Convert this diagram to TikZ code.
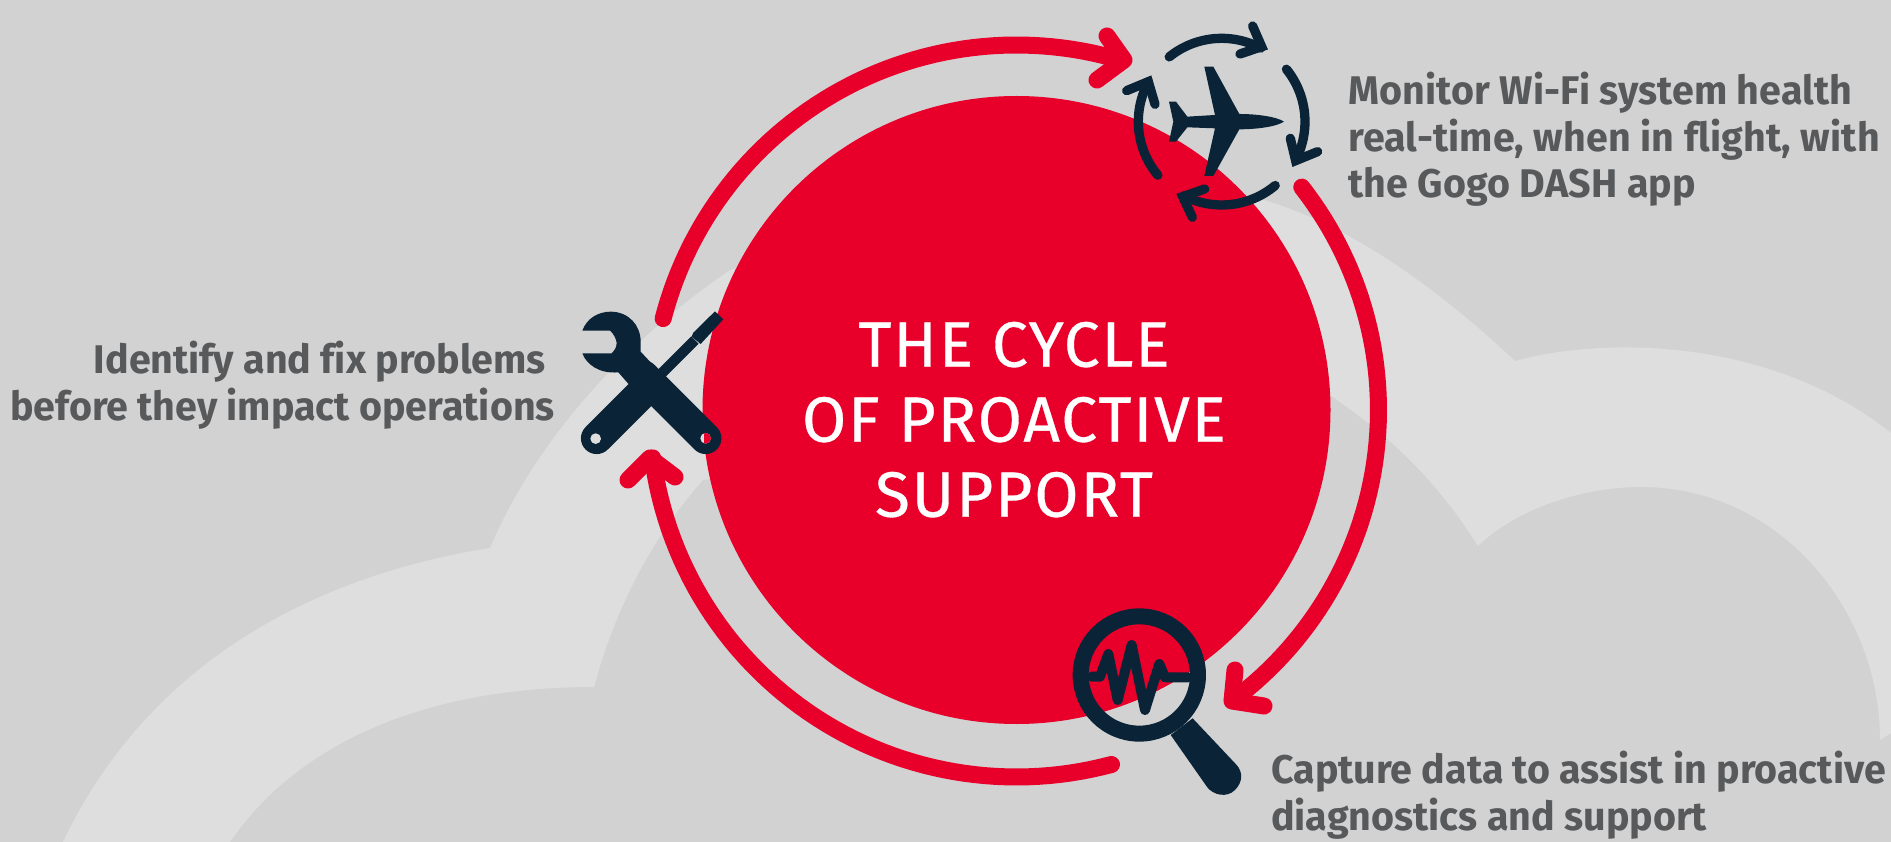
\documentclass[tikz,border=0pt]{standalone}
\usepackage{fontspec}
\setmainfont{Fira Sans}[Ligatures=NoCommon]
\newfontfamily\labelfont{Fira Sans}[Ligatures=NoCommon,BoldFont={Fira Sans Bold},FakeStretch=0.985]
\newfontfamily\titlefont{Fira Sans}[FakeBold=0.5,LetterSpace=3.0]
\definecolor{bgc}{HTML}{D2D2D2}
\definecolor{cloudc}{HTML}{DEDEDE}
\definecolor{redc}{HTML}{E8002B}
\definecolor{navyc}{HTML}{0A2337}
\definecolor{textc}{HTML}{58595B}
\newcommand{\arcplot}[5]{plot[domain=#4:#5,samples=60,variable=\t] ({#1+#3*cos(\t)},{#2+#3*sin(\t)})}
\tikzset{
  ringarc/.style={draw=redc,line width=17pt,line cap=round,line join=round},
  iconarc/.style={draw=navyc,line width=9.3pt,line cap=round,line join=miter},
  labeltext/.style={text=textc,font=\labelfont\fontsize{40}{46.5}\selectfont\bfseries,inner sep=0pt},
  titletext/.style={text=white,font=\titlefont\fontsize{64}{75}\selectfont,inner sep=0pt,anchor=base}
}
\begin{document}
\begin{tikzpicture}[x=1pt,y=-1pt]
\useasboundingbox (0,0) rectangle (1891,842);
\fill[bgc] (0,0) rectangle (1891,842);
% cloud
\fill[cloudc]
  (63,842) .. controls (140,680) and (290,580) .. (490,548)
  .. controls (540,430) and (640,330) .. (732,269)
  -- (1253,197)
  .. controls (1350,222) and (1445,295) .. (1515,361)
  .. controls (1610,335) and (1775,340) .. (1891,433)
  -- (1891,733) -- (1880,740)
  .. controls (1880,610) and (1780,487) .. (1641,487)
  .. controls (1580,487) and (1515,510) .. (1478,546)
  .. controls (1430,470) and (1380,430) .. (1330,395)
  -- (703,480)
  .. controls (650,540) and (615,610) .. (594,687)
  .. controls (430,687) and (300,740) .. (230,842)
  -- cycle;
% main disc
\fill[redc] (1016.5,410) circle[radius=314];
% ring arrows
\draw[ringarc] \arcplot{1016.5}{410}{365}{194.5}{286.7};
\draw[ringarc] (1107,36) -- (1124,60) -- (1097,80);
\draw[ringarc] \arcplot{1016.5}{410}{362}{-38}{53.4};
\draw[ringarc] (1235,670) -- (1232,701) -- (1264,706);
\draw[ringarc] \arcplot{1016.5}{410}{367}{75}{172.5};
\draw[ringarc] (628,480) -- (650,458) -- (675,477);
% plane icon
\begin{scope}[shift={(1100,0)},x=0.3333pt,y=-0.3333pt]
  \fill[navyc] (552,365) .. controls (530,350) and (470,342) .. (418,342) -- (340,200) -- (313,200) -- (345,345)
    -- (262,350) -- (228,305) -- (207,305) -- (220,365) -- (207,425) -- (228,425) -- (262,382)
    -- (345,385) -- (313,528) -- (340,528) -- (418,388) .. controls (470,388) and (530,380) .. (552,365) -- cycle;
  \draw[iconarc] \arcplot{365}{365}{250}{231}{298};
  \draw[iconarc] (458,78) -- (485,140) -- (420,162);
  \draw[iconarc] \arcplot{365}{365}{250}{-39}{27.6};
  \draw[iconarc] (571,415) -- (587,482) -- (653,455);
  \draw[iconarc] \arcplot{365}{365}{250}{50}{117};
  \draw[iconarc] (314,567) -- (248,590) -- (277,652);
  \draw[iconarc] \arcplot{365}{365}{250}{140}{208.6};
  \draw[iconarc] (80,272) -- (145,245) -- (165,313);
\end{scope}
% tools icon
\begin{scope}[shift={(550,290)},x=0.3333pt,y=-0.3333pt]
  \fill[navyc] (430,128) -- (495,64) -- (520,88) -- (452,162) -- (425,140) -- cycle;
  \draw[navyc,line width=10.5pt] (435,150) -- (300,285);
  \draw[navyc,line width=31.5pt,line cap=round] (140,445) -- (269,316);
  \fill[navyc] (97,122) .. controls (110,85) and (145,65) .. (182,65) .. controls (235,65) and (272,105) .. (272,155)
     -- (272,185) -- (313,229) -- (247,295) -- (205,247) .. controls (150,252) and (110,225) .. (97,190)
     -- (185,190) .. controls (195,180) and (200,170) .. (200,158) .. controls (198,145) and (190,130) .. (180,122) -- cycle;
  \draw[navyc,line width=31.5pt,line cap=round] (280,258) -- (467,445);
  \fill[cloudc] (137,446) circle[radius=16];
  \begin{scope}
    \clip (467,445) circle[radius=16];
    \fill[cloudc] (440,420) rectangle (490,470);
    \fill[redc] (462,410) rectangle (500,480);
  \end{scope}
\end{scope}
% magnifier icon
\begin{scope}[shift={(1050,590)},x=0.3333pt,y=-0.3333pt]
  \draw[navyc,line width=16pt] (268,255) circle[radius=176];
  \fill[navyc] (362,435) -- (472,592) .. controls (490,615) and (530,625) .. (555,600) .. controls (580,575) and (578,545) .. (560,525) -- (428,385) -- cycle;
  \draw[navyc,line width=10pt,line join=round,line cap=round] (125,260) -- (150,260) -- (175,192) -- (203,330) -- (245,165) -- (285,360) -- (328,222) -- (345,262) -- (415,262);
\end{scope}
% title
\node[titletext] (t1) at (1014,366.7) {THE CYCLE};
\node[titletext] (t2) at (1014,441.7) {OF PROACTIVE};
\node[titletext] (t3) at (1014,516.7) {SUPPORT};
% labels
\node[labeltext,anchor=base west,align=left] (mon) at (1348,198) {\addfontfeature{LetterSpace=0.4}Monitor Wi-Fi system health\\\addfontfeature{LetterSpace=0.4}real-time, when in flight, with\\\addfontfeature{LetterSpace=0.4}the Gogo DASH app};
\node[labeltext,anchor=base west,align=left] (cap) at (1271,830) {Capture data to assist in proactive\\diagnostics and support};
\node[labeltext,anchor=base east,align=right] (idf) at (555,420) {Identify and fix problems\hspace*{9pt}\\before they impact operations};
\end{tikzpicture}
\end{document}
